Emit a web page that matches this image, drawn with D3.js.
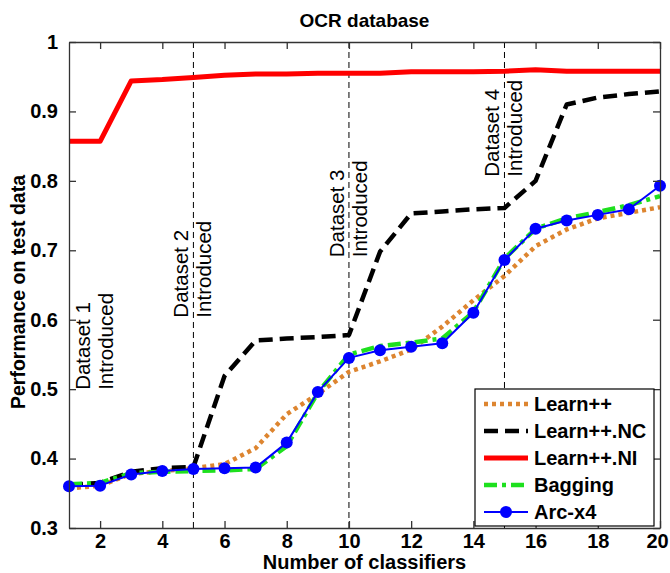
<!DOCTYPE html>
<html>
<head>
<meta charset="utf-8">
<script src="https://cdn.jsdelivr.net/npm/d3@7"></script>
<style>
  html, body { margin: 0; padding: 0; background: #fff; }
  svg { display: block; font-family: Arial, "Liberation Sans", Helvetica, sans-serif; }
</style>
</head>
<body>
<svg id="chart" width="670" height="573"></svg>
<script>
// ---------- data ----------
const classifiers = d3.range(1, 21);
const learnPP   = [0.357,0.361,0.378,0.382,0.386,0.392,0.415,0.464,0.493,0.525,0.540,0.557,0.590,0.628,0.663,0.706,0.730,0.746,0.754,0.762];
const learnNC   = [0.362,0.365,0.381,0.386,0.388,0.519,0.570,0.573,0.575,0.578,0.698,0.753,0.756,0.759,0.761,0.800,0.910,0.920,0.925,0.929];
const learnNI   = [0.857,0.857,0.944,0.946,0.949,0.952,0.954,0.954,0.955,0.955,0.955,0.957,0.957,0.957,0.958,0.960,0.958,0.958,0.958,0.958];
const bagging   = [0.363,0.365,0.379,0.381,0.382,0.383,0.385,0.418,0.495,0.550,0.562,0.567,0.573,0.611,0.688,0.731,0.746,0.755,0.765,0.778];
const arcx4     = [0.360,0.361,0.377,0.382,0.385,0.386,0.387,0.423,0.496,0.545,0.556,0.561,0.566,0.610,0.686,0.731,0.743,0.751,0.759,0.793];
const seriesNames = ["Learn++", "Learn++.NC", "Learn++.NI", "Bagging", "Arc-x4"];
const xTicks = [2,4,6,8,10,12,14,16,18,20];
const yTicks = [0.3,0.4,0.5,0.6,0.7,0.8,0.9,1];
const datasetIntro = [1, 5, 10, 15];           // classifier index where dataset introduced
const datasetLabels = ["Dataset 1", "Dataset 2", "Dataset 3", "Dataset 4"];
const datasetLabelBottom = [0.499, 0.603, 0.690, 0.806]; // y-value where the rotated labels start
const titleText = "OCR database";
const xLabel = "Number of classifiers";
const yLabel = "Performance on test data";

// ---------- layout ----------
const L = 69, R = 660, T = 42, B = 528;
const svg = d3.select("#chart");
const x = d3.scaleLinear().domain([1, 20]).range([L, R]);
const y = d3.scaleLinear().domain([0.3, 1]).range([B, T]);

const styles = [
  {color: "#dd8530", width: 4.5, dash: "4,4"},
  {color: "#000000", width: 4.5, dash: "14,7"},
  {color: "#ff0000", width: 5,   dash: null},
  {color: "#1ee01e", width: 4.5, dash: "13,5,4,5"},
  {color: "#0000ff", width: 2,   dash: null, marker: true}
];
const allSeries = [learnPP, learnNC, learnNI, bagging, arcx4];

// plot background
svg.append("rect").attr("x", L).attr("y", T).attr("width", R - L).attr("height", B - T)
  .attr("fill", "#fff").attr("stroke", "none");

// vertical dashed lines for dataset introduction (dataset 1 sits on the axis)
svg.append("g").selectAll("line").data(datasetIntro.slice(1)).join("line")
  .attr("x1", d => x(d)).attr("x2", d => x(d)).attr("y1", T).attr("y2", B)
  .attr("stroke", "#000").attr("stroke-width", 1).attr("stroke-dasharray", "6,4");

// dataset annotations (rotated)
const annG = svg.append("g").attr("font-size", 20.5).attr("fill", "#000");
datasetIntro.forEach((d, i) => {
  const cx = i === 0 ? x(1.85) : x(d);
  const yb = y(datasetLabelBottom[i]);
  annG.append("text").attr("transform", `translate(${cx - 5},${yb}) rotate(-90)`)
    .text(datasetLabels[i]);
  annG.append("text").attr("transform", `translate(${cx + 18},${yb}) rotate(-90)`)
    .text("Introduced");
});

// lines
const line = d3.line().x((d, i) => x(classifiers[i])).y(d => y(d));
allSeries.forEach((s, k) => {
  const st = styles[k];
  svg.append("path").datum(s).attr("d", line)
    .attr("fill", "none").attr("stroke", st.color).attr("stroke-width", st.width)
    .attr("stroke-dasharray", st.dash).attr("stroke-linejoin", "round");
  if (st.marker) {
    svg.append("g").selectAll("circle").data(s).join("circle")
      .attr("cx", (d, i) => x(classifiers[i])).attr("cy", d => y(d)).attr("r", 6)
      .attr("fill", st.color);
  }
});

// axes
const fmt = d => d === 1 ? "1" : d.toFixed(1);
const axStyle = g => {
  g.selectAll(".domain").attr("stroke", "#333").attr("stroke-width", 1.3);
  g.selectAll(".tick line").attr("stroke", "#333").attr("stroke-width", 1.3);
  g.selectAll("text").attr("font-size", 20).attr("font-weight", "bold").attr("fill", "#000");
};
const xAxisG = svg.append("g").attr("transform", `translate(0,${B})`)
  .call(d3.axisBottom(x).tickValues(xTicks).tickSizeInner(-7).tickSizeOuter(0).tickPadding(6).tickFormat(d3.format("d")))
  .call(axStyle);
// keep the last label inside the picture
xAxisG.selectAll(".tick text").filter(d => d === 20).attr("dx", -3);
svg.append("g").attr("transform", `translate(0,${T})`)
  .call(d3.axisTop(x).tickValues(xTicks).tickSizeInner(-7).tickSizeOuter(0).tickFormat(""))
  .call(axStyle);
svg.append("g").attr("transform", `translate(${L},0)`)
  .call(d3.axisLeft(y).tickValues(yTicks).tickSizeInner(-7).tickSizeOuter(0).tickPadding(11).tickFormat(fmt))
  .call(axStyle);
svg.append("g").attr("transform", `translate(${R},0)`)
  .call(d3.axisRight(y).tickValues(yTicks).tickSizeInner(-7).tickSizeOuter(0).tickFormat(""))
  .call(axStyle);

// title and axis labels
svg.append("text").attr("x", (L + R) / 2).attr("y", 27).attr("text-anchor", "middle")
  .attr("font-size", 19).attr("font-weight", "bold").text(titleText);
svg.append("text").attr("x", (L + R) / 2).attr("y", 569).attr("text-anchor", "middle")
  .attr("font-size", 20).attr("font-weight", "bold").text(xLabel);
svg.append("text").attr("transform", `translate(25,${(T + B) / 2 + 7}) rotate(-90)`).attr("text-anchor", "middle")
  .attr("font-size", 19.5).attr("font-weight", "bold").text(yLabel);

// legend
const lg = svg.append("g");
const lx = 475, ly = 389, lw = 179, lh = 137;
lg.append("rect").attr("x", lx).attr("y", ly).attr("width", lw).attr("height", lh)
  .attr("fill", "#fff").attr("stroke", "#000").attr("stroke-width", 1.2);
seriesNames.forEach((n, k) => {
  const st = styles[k];
  const yy = ly + 15 + k * 27;
  lg.append("line").attr("x1", lx + 9).attr("x2", lx + 53).attr("y1", yy).attr("y2", yy)
    .attr("stroke", st.color).attr("stroke-width", st.width).attr("stroke-dasharray", st.dash);
  if (st.marker) lg.append("circle").attr("cx", lx + 31).attr("cy", yy).attr("r", 6).attr("fill", st.color);
  lg.append("text").attr("x", lx + 59).attr("y", yy + 7).attr("font-size", 20).attr("font-weight", "bold").text(n);
});
</script>
</body>
</html>
